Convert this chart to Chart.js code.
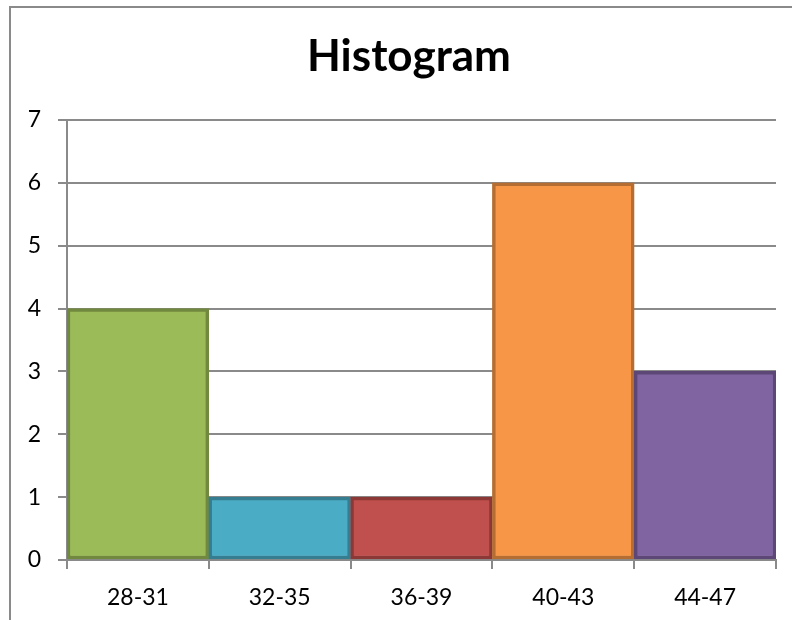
<!DOCTYPE html>
<html>
<head>
<meta charset="utf-8">
<script src="https://cdn.jsdelivr.net/npm/chart.js@4/dist/chart.umd.min.js"></script>
<style>
  html, body { margin: 0; padding: 0; background: #ffffff; }
  #wrap { position: relative; width: 792px; height: 620px; }
  #frame { position: absolute; left: 9px; top: 6px; width: 800px; height: 700px;
           border-left: 2px solid #8a8a8a; border-top: 2px solid #8a8a8a; pointer-events: none; }
  canvas { position: absolute; left: 0; top: 0; }
</style>
</head>
<body>
<div id="wrap">
  <canvas id="chart" width="792" height="620"></canvas>
  <div id="frame"></div>
</div>
<script>
// Age bins and counts
const categories = ['28-31', '32-35', '36-39', '40-43', '44-47'];
const counts = [4, 1, 1, 6, 3];
const yTicks = [0, 1, 2, 3, 4, 5, 6, 7];
const titleText = 'Histogram';

const fillColors = ['#9BBB59', '#4BACC6', '#C0504D', '#F79646', '#8064A2'];
const edgeColors = ['#71893F', '#357D91', '#8C3836', '#B66D31', '#5C4776'];

const FONT = 'Lato, "Open Sans", sans-serif';

// Title drawn centred on the chart frame
const titlePlugin = {
  id: 'frameTitle',
  afterDraw(chart) {
    const ctx = chart.ctx;
    ctx.save();
    ctx.font = 'bold 44px ' + FONT;
    ctx.fillStyle = '#000000';
    ctx.textAlign = 'center';
    ctx.textBaseline = 'alphabetic';
    ctx.fillText(titleText, 409, 71);
    ctx.restore();
  }
};

new Chart(document.getElementById('chart'), {
  type: 'bar',
  data: {
    labels: categories,
    datasets: [{
      data: counts,
      backgroundColor: fillColors,
      borderColor: edgeColors,
      borderWidth: 3.5,
      borderSkipped: false,
      barPercentage: 1.0,
      categoryPercentage: 1.0
    }]
  },
  options: {
    responsive: false,
    animation: false,
    devicePixelRatio: 1,
    layout: { padding: { left: 0, right: 16, top: 120, bottom: 0 } },
    plugins: {
      legend: { display: false },
      title: { display: false },
      tooltip: { enabled: false }
    },
    scales: {
      x: {
        offset: true,
        grid: {
          offset: true,
          drawOnChartArea: false,
          drawTicks: true,
          tickLength: 9,
          color: '#8a8a8a',
          lineWidth: 2
        },
        border: { display: true, color: '#8a8a8a', width: 2 },
        ticks: {
          color: '#000000',
          font: { family: FONT, size: 23 },
          padding: 15,
          maxRotation: 0
        },
        afterFit(scale) { scale.height = 60; }
      },
      y: {
        min: 0,
        max: 7,
        afterBuildTicks(scale) { scale.ticks = yTicks.map(v => ({ value: v })); },
        grid: {
          drawTicks: true,
          tickLength: 9,
          color: '#8a8a8a',
          lineWidth: 2
        },
        border: { display: true, color: '#8a8a8a', width: 2 },
        ticks: {
          color: '#000000',
          font: { family: FONT, size: 23 },
          padding: 17
        },
        afterFit(scale) { scale.width = 67; }
      }
    }
  },
  plugins: [titlePlugin]
});
</script>
</body>
</html>
